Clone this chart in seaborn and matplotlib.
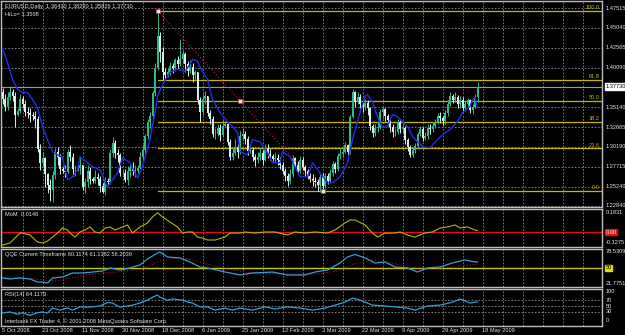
import numpy as np
import pandas as pd
import matplotlib
matplotlib.use("Agg")
import matplotlib.pyplot as plt
import matplotlib.transforms as mtrans
import seaborn as sns

sns.set_theme(style="dark")
plt.rcParams['font.family'] = ['Liberation Sans', 'DejaVu Sans']

# ---------------- data ----------------
first_open = 1.3700
close = [
1.3620,1.3520,1.3640,1.3700,1.3660,1.3420,
1.3470,1.3620,1.3560,1.3460,1.3440,1.3420,
1.3400,1.3370,1.3000,1.2820,1.2880,1.2680,
1.2550,1.2480,1.2670,1.2960,1.2900,1.2740,
1.2720,1.2710,1.2960,1.2900,1.2740,1.2740,
1.2760,1.2790,1.2520,1.2580,1.2720,1.2620,
1.2600,1.2640,1.2620,1.2530,1.2460,1.2600,
1.2580,1.2950,1.3070,1.2950,1.2920,1.2690,
1.2700,1.2610,1.2720,1.2760,1.2720,1.2720,
1.2760,1.2900,1.2980,1.3150,1.3330,1.3400,
1.3690,1.4000,1.4400,1.4200,1.3950,1.3920,
1.3950,1.4030,1.4000,1.4100,1.4050,1.4120,
1.4180,1.4050,1.3970,1.4020,1.3920,1.3950,
1.3600,1.3450,1.3620,1.3650,1.3440,1.3370,
1.3180,1.3180,1.3260,1.3170,1.3280,1.3300,
1.3080,1.2900,1.2950,1.3020,1.2960,1.3160,
1.3180,1.3120,1.2970,1.2980,1.2890,1.2860,
1.2900,1.2950,1.2860,1.3000,1.2930,1.2910,
1.2870,1.2880,1.2860,1.2800,1.2720,1.2660,
1.2590,1.2680,1.2880,1.2800,1.2720,1.2860,
1.2770,1.2720,1.2660,1.2620,1.2590,1.2580,
1.2540,1.2640,1.2530,1.2660,1.2600,1.2700,
1.2810,1.2750,1.2910,1.2930,1.2960,1.3040,
1.2960,1.3390,1.3700,1.3580,1.3640,1.3560,
1.3520,1.3570,1.3500,1.3280,1.3190,1.3250,
1.3270,1.3460,1.3490,1.3400,1.3350,1.3270,
1.3200,1.3200,1.3330,1.3240,1.3260,1.3100,
1.3020,1.2920,1.2980,1.3030,1.3180,1.3240,
1.3130,1.3150,1.3260,1.3240,1.3280,1.3330,
1.3400,1.3380,1.3340,1.3440,1.3560,1.3650,
1.3610,1.3640,1.3550,1.3610,1.3500,1.3560,
1.3600,1.3480,1.3520,1.3643,1.3773]
high = [
1.3760,1.3680,1.3700,1.3780,1.3740,1.3700,
1.3500,1.3680,1.3650,1.3600,1.3520,1.3500,
1.3450,1.3470,1.3400,1.3050,1.2960,1.2900,
1.2700,1.2620,1.2720,1.3010,1.3020,1.2930,
1.2770,1.2800,1.3000,1.3040,1.2940,1.2800,
1.2790,1.2890,1.2800,1.2630,1.2800,1.2770,
1.2650,1.2730,1.2700,1.2660,1.2570,1.2650,
1.2630,1.3000,1.3140,1.3100,1.2990,1.2940,
1.2730,1.2740,1.2780,1.2800,1.2830,1.2800,
1.2790,1.2960,1.3050,1.3180,1.3370,1.3460,
1.3720,1.4060,1.4719,1.4450,1.4260,1.4010,
1.4000,1.4080,1.4060,1.4130,1.4150,1.4360,
1.4220,1.4200,1.4090,1.4100,1.4060,1.3980,
1.3960,1.3640,1.3680,1.3720,1.3660,1.3480,
1.3400,1.3260,1.3310,1.3300,1.3350,1.3340,
1.3320,1.3120,1.3020,1.3120,1.3050,1.3220,
1.3260,1.3220,1.3150,1.3020,1.3020,1.2930,
1.2960,1.3010,1.2980,1.3060,1.3050,1.2990,
1.2930,1.2960,1.2930,1.2900,1.2830,1.2760,
1.2690,1.2740,1.2920,1.2900,1.2840,1.2910,
1.2890,1.2800,1.2750,1.2690,1.2680,1.2640,
1.2620,1.2680,1.2690,1.2700,1.2700,1.2740,
1.2840,1.2830,1.2950,1.2990,1.3010,1.3080,
1.3060,1.3420,1.3740,1.3720,1.3700,1.3680,
1.3600,1.3620,1.3600,1.3520,1.3300,1.3300,
1.3340,1.3490,1.3520,1.3500,1.3430,1.3380,
1.3300,1.3260,1.3370,1.3350,1.3310,1.3280,
1.3130,1.3040,1.3020,1.3070,1.3210,1.3280,
1.3270,1.3200,1.3300,1.3310,1.3330,1.3370,
1.3440,1.3450,1.3410,1.3480,1.3600,1.3700,
1.3680,1.3710,1.3670,1.3650,1.3640,1.3590,
1.3630,1.3620,1.3560,1.3680,1.3829]
low = [
1.3560,1.3470,1.3480,1.3600,1.3590,1.3270,
1.3400,1.3440,1.3510,1.3400,1.3380,1.3330,
1.3350,1.3250,1.2960,1.2730,1.2780,1.2520,
1.2450,1.2340,1.2330,1.2620,1.2800,1.2680,
1.2690,1.2650,1.2700,1.2840,1.2660,1.2660,
1.2720,1.2680,1.2480,1.2440,1.2520,1.2560,
1.2570,1.2570,1.2550,1.2460,1.2440,1.2420,
1.2540,1.2560,1.2890,1.2880,1.2830,1.2660,
1.2670,1.2580,1.2550,1.2640,1.2670,1.2650,
1.2700,1.2740,1.2860,1.2950,1.3120,1.3260,
1.3380,1.3660,1.3980,1.4080,1.3860,1.3880,
1.3890,1.3920,1.3940,1.3970,1.4000,1.4030,
1.4060,1.3950,1.3900,1.3940,1.3830,1.3850,
1.3560,1.3330,1.3420,1.3550,1.3400,1.3300,
1.3140,1.3120,1.3150,1.3090,1.3140,1.3250,
1.3040,1.2860,1.2860,1.2920,1.2880,1.2930,
1.3100,1.3050,1.2920,1.2940,1.2850,1.2780,
1.2820,1.2860,1.2800,1.2840,1.2880,1.2860,
1.2840,1.2820,1.2800,1.2740,1.2680,1.2600,
1.2530,1.2560,1.2650,1.2760,1.2680,1.2700,
1.2730,1.2660,1.2620,1.2580,1.2530,1.2520,
1.2470,1.2457,1.2490,1.2510,1.2560,1.2580,
1.2660,1.2700,1.2720,1.2870,1.2900,1.2940,
1.2920,1.2930,1.3380,1.3520,1.3550,1.3500,
1.3450,1.3480,1.3420,1.3230,1.3140,1.3150,
1.3210,1.3240,1.3380,1.3340,1.3290,1.3210,
1.3140,1.3160,1.3180,1.3190,1.3190,1.3060,
1.2970,1.2890,1.2890,1.2950,1.3000,1.3150,
1.3090,1.3100,1.3120,1.3180,1.3210,1.3250,
1.3300,1.3320,1.3290,1.3300,1.3400,1.3530,
1.3570,1.3580,1.3500,1.3510,1.3460,1.3470,
1.3520,1.3440,1.3430,1.3500,1.3583]

hilo_bar = [0,2,4,6,8,10,12,14,16,18,20,22,24,26,28,30,31,34,36,39,42,44,46,48,51,53,54,56,59,61,
            62,64,67,70,73,75,76,78,79,82,84,87,90,92,94,95,98,100,103,106,108,111,112,115,119,122,124,127,130,132,
            135,138,140,143,145,146,148,150,152,154,156,158,162,164,168,171,174,176,179,182,184,187,188,189,190]
hilo_val = [1.4247,1.4075,1.3862,1.3737,1.3699,1.3699,1.3611,1.3511,1.3273,1.3110,
            1.2960,1.2922,1.2885,1.2609,1.2647,1.2734,1.2897,1.2822,1.2772,1.2734,
            1.2521,1.2609,1.2697,1.2885,1.2822,1.2697,1.2634,1.2772,1.3110,1.3448,
            1.3649,1.3799,1.3950,1.3987,1.3962,1.4050,1.4112,1.4087,1.4012,1.3862,
            1.3611,1.3448,1.3336,1.3273,1.3198,1.2960,1.2922,1.3110,1.3085,1.2947,
            1.2822,1.2822,1.2960,1.2897,1.2647,1.2647,1.2822,1.2697,1.2572,1.2572,
            1.2647,1.2822,1.3110,1.3448,1.3649,1.3674,1.3574,1.3398,1.3260,1.3273,
            1.3423,1.3398,1.3273,1.3148,1.3022,1.3010,1.3110,1.3173,1.3235,1.3336,
            1.3448,1.3524,1.3611,1.3636,1.3508]

price_ticks = [1.47515, 1.45040, 1.42565, 1.40090, 1.35140, 1.32665, 1.30190, 1.27715, 1.25240, 1.22840]
current_price = 1.37730
fib_high = 1.4719
fib_low = 1.2470
fib_high_bar = 62
fib_low_bar = 128
fib_levels = [100.0, 61.8, 50.0, 38.2, 23.6, 0.0]

mom_bar = [0,3,5,7,8,11,14,16,18,20,22,24,26,27,29,31,33,35,37,39,41,43,45,47,50,52,55,58,60,62,
           64,67,70,72,74,76,78,80,82,85,89,91,95,97,101,105,109,114,117,121,125,130,133,137,139,141,145,148,150,153,
           157,159,162,165,169,172,175,178,181,183,186,189,190]
mom_val = [-0.124,-0.105,-0.057,-0.010,-0.010,-0.029,-0.095,-0.105,-0.086,-0.048,
           -0.010,0.038,0.019,-0.010,-0.048,0.0,0.019,0.048,0.0,-0.010,
           0.038,0.048,0.019,0.038,0.067,-0.010,0.048,0.086,0.143,0.1831,
           0.143,0.095,0.048,-0.010,0.0,0.0,-0.048,-0.057,-0.076,-0.076,
           -0.048,-0.010,-0.010,0.0,-0.010,0.0,0.0,-0.029,0.0,-0.010,
           0.0,-0.010,0.019,0.086,0.114,0.114,0.067,-0.010,-0.048,-0.010,
           -0.010,0.0,-0.029,-0.048,-0.010,0.0,0.038,0.048,0.067,0.038,
           0.048,0.019,0.0146]

qqe_bar = [0,3,7,11,14,16,18,20,24,28,32,36,40,43,47,51,55,58,62,63,66,71,75,79,82,89,95,100,108,114,
           121,125,130,135,138,141,145,149,153,157,162,166,170,175,180,185,189,190]
qqe_val = [31.0,29.1,31.0,29.1,23.6,23.6,21.8,31.0,32.8,40.1,40.1,41.9,43.8,49.3,45.6,49.3,54.8,65.7,76.7,78.5,
           69.4,67.6,60.3,51.1,49.3,41.9,36.5,40.1,41.9,36.5,
           36.5,41.9,45.6,58.4,69.4,74.0,67.6,58.4,60.3,51.1,49.3,41.9,49.3,51.1,58.4,63.9,60.3,60.1]
qqe_slow_bar = [0,8,14,18,22,26,32,40,48,56,62,70,76,82,90,98,108,118,126,134,140,148,156,164,172,182,190]
qqe_slow_val = [32.0,31.0,29.0,26.0,25.5,30.0,36.0,40.0,43.0,48.0,60.0,68.0,64.0,56.0,48.0,41.0,39.0,38.0,
                38.5,44.0,56.0,64.0,58.0,50.0,47.0,53.0,56.2]

rsi_bar = [0,3,6,8,11,14,16,18,20,23,26,28,31,34,36,39,42,44,47,50,52,55,58,60,62,63,66,68,72,74,
           76,79,82,85,89,92,95,100,105,109,114,119,124,129,133,137,140,143,148,153,157,162,165,170,175,180,183,187,189,190]
rsi_val = [26,30,22,27,18,27,30,26,43,36,43,36,47,46,47,50,62,60,46,50,53,60,70,80,87,80,70,74,70,64,
           60,47,47,36,43,36,43,36,47,40,47,43,36,43,53,63,77,70,53,50,47,43,36,50,53,63,74,60,63,64.1]
rsi_levels = [70, 50, 30]
rsi_ticks = [100, 70, 50, 30, 0]

date_labels = ["5 Oct 2008", "23 Oct 2008", "11 Nov 2008", "30 Nov 2008", "18 Dec 2008", "6 Jan 2009",
               "25 Jan 2009", "12 Feb 2009", "3 Mar 2009", "22 Mar 2009", "9 Apr 2009", "29 Apr 2009",
               "18 May 2009"]
date_bars = [0, 16, 32, 48, 64, 80, 96, 112, 128, 144, 160, 176, 192]

# ---------------- layout ----------------
W, H = 625, 335
L, R = 1, 602
BAR0, STEP = 2.5, 2.5
XMIN = (L - BAR0) / STEP
XMAX = (R - BAR0) / STEP

BG = 'black'
GRID = '#8c8c8c'
TXT = '#e6e6e6'
FS = 4.1
BULL = '#2fb98c'
BEAR = '#d6f2ec'
FIB = '#c4b800'

fig = plt.figure(figsize=(W / 100, H / 100), dpi=100, facecolor=BG)


def add_ax(top, bottom):
    a = fig.add_axes([L / W, 1 - bottom / H, (R - L) / W, (bottom - top) / H])
    a.set_facecolor(BG)
    a.set_xlim(XMIN, XMAX)
    a.set_xticks([])
    a.set_yticks([])
    a.grid(False)
    for s in a.spines.values():
        s.set_color('#bdbdbd')
        s.set_linewidth(1.0)
    for b in range(8, 240, 8):
        a.axvline(b, color=GRID, ls=(0, (2, 2)), lw=0.6, zorder=0)
    return a


ax = add_ax(1, 207)
ax_m = add_ax(209, 247)
ax_q = add_ax(249, 287)
ax_r = add_ax(289, 326)

# ---------------- main price panel ----------------
ax.set_ylim(1.22706, 1.48392)
for p in price_ticks:
    ax.axhline(p, color=GRID, ls=(0, (2, 2)), lw=0.6, zorder=0)

n = min(len(close), len(high), len(low))
idx = np.arange(n)
c = np.array(close[:n])
o = np.array([first_open] + close[:n - 1])
hi = np.array(high[:n])
lo = np.array(low[:n])
cols = [BULL if cc >= oo else BEAR for oo, cc in zip(o, c)]
ax.vlines(idx, lo, hi, colors=cols, lw=0.7, zorder=3)
body_lo = np.minimum(o, c)
body_h = np.maximum(np.abs(c - o), 0.0006)
ax.bar(idx, body_h, bottom=body_lo, width=0.7, color=cols, linewidth=0, zorder=3)

# fibonacci levels
fib_rng = fib_high - fib_low
for lev in fib_levels:
    val = fib_low + fib_rng * lev / 100.0
    ax.plot([fib_high_bar, XMAX], [val, val], color=FIB, lw=0.9, zorder=2)
    ax.text(XMAX - 1, val + 0.0008, f"{lev:.1f}", color=FIB, fontsize=FS, ha='right', va='bottom', zorder=5)

# fib trend line
ax.plot([fib_high_bar, fib_low_bar], [fib_high, fib_low], color='#d02020', ls=(0, (1, 2)), lw=0.8, zorder=4)
mid_bar = (fib_high_bar + fib_low_bar) / 2
ax.plot([fib_high_bar, mid_bar, fib_low_bar], [fib_high, (fib_high + fib_low) / 2, fib_low], ls='none',
        marker='s', ms=2.2, mfc='#ffd8d8', mec='#e03030', mew=0.5, zorder=6)

# current price line
ax.axhline(current_price, color='#9a9a9a', lw=0.8, zorder=1)

# HiLo line
sns.lineplot(x=hilo_bar, y=hilo_val, ax=ax, color='#1f2ee8', lw=1.0, legend=False, estimator=None, sort=False, zorder=4)
ax.set_xlabel('')
ax.set_ylabel('')

# price labels
trans_main = mtrans.blended_transform_factory(ax.transAxes, ax.transData)
for p in price_ticks:
    ax.text(1.006, p, f"{p:.5f}", color=TXT, fontsize=FS, ha='left', va='center', transform=trans_main, clip_on=False)
ax.text(1.006, current_price, f"{current_price:.5f}", color='black', fontsize=FS, ha='left', va='center',
        transform=trans_main, clip_on=False,
        bbox=dict(boxstyle='square,pad=0.12', fc='white', ec='white'))

ax.text(0.006, 0.985, "EURUSD,Daily  1.36430 1.38290 1.35826 1.37730", color=TXT, fontsize=FS,
        ha='left', va='top', transform=ax.transAxes)
ax.text(0.006, 0.948, "HiLo= 1.3508", color=TXT, fontsize=FS, ha='left', va='top', transform=ax.transAxes)

# ---------------- MoM panel ----------------
ax_m.set_ylim(-0.1425, 0.2185)
ax_m.axhline(0.0, color='#e01010', lw=1.0, zorder=1)
sns.lineplot(x=mom_bar, y=mom_val, ax=ax_m, color='#b8b400', lw=0.8, legend=False, estimator=None, sort=False, zorder=3)
ax_m.set_xlabel(''); ax_m.set_ylabel('')
tm = mtrans.blended_transform_factory(ax_m.transAxes, ax_m.transData)
ax_m.text(1.006, 0.1831, "0.1831", color=TXT, fontsize=FS, ha='left', va='center', transform=tm, clip_on=False)
ax_m.text(1.006, 0.0, "0.00", color='white', fontsize=FS, ha='left', va='center', transform=tm, clip_on=False,
          bbox=dict(boxstyle='square,pad=0.1', fc='#e01010', ec='#e01010'))
ax_m.text(1.006, -0.1275, "-0.1275", color=TXT, fontsize=FS, ha='left', va='bottom', transform=tm, clip_on=False)
ax_m.text(0.006, 0.93, "MoM  0.0146", color=TXT, fontsize=FS, ha='left', va='top', transform=ax_m.transAxes)

# ---------------- QQE panel ----------------
ax_q.set_ylim(14.5, 84.0)
ax_q.axhline(50, color='#c8c400', lw=1.0, zorder=1)
sns.lineplot(x=qqe_slow_bar, y=qqe_slow_val, ax=ax_q, color='#d02020', lw=0.7, ls=(0, (1, 2)), legend=False,
             estimator=None, sort=False, zorder=2)
sns.lineplot(x=qqe_bar, y=qqe_val, ax=ax_q, color='#3a9bd6', lw=0.9, legend=False, estimator=None, sort=False, zorder=3)
ax_q.set_xlabel(''); ax_q.set_ylabel('')
tq = mtrans.blended_transform_factory(ax_q.transAxes, ax_q.transData)
ax_q.text(1.006, 78.5309, "78.5309", color=TXT, fontsize=FS, ha='left', va='center', transform=tq, clip_on=False)
ax_q.text(1.006, 50, "50", color='black', fontsize=FS, ha='left', va='center', transform=tq, clip_on=False,
          bbox=dict(boxstyle='square,pad=0.1', fc='#e0dc00', ec='#e0dc00'))
ax_q.text(1.006, 21.7751, "21.7751", color=TXT, fontsize=FS, ha='left', va='center', transform=tq, clip_on=False)
ax_q.text(0.006, 0.93, "QQE Current Timeframe 60.1174 61.1382 56.2039", color=TXT, fontsize=FS,
          ha='left', va='top', transform=ax_q.transAxes)

# ---------------- RSI panel ----------------
ax_r.set_ylim(-18.0, 107.8)
for lv in rsi_levels:
    ax_r.axhline(lv, color=GRID, ls=(0, (2, 2)), lw=0.6, zorder=1)
sns.lineplot(x=rsi_bar, y=rsi_val, ax=ax_r, color='#3a9bd6', lw=0.9, legend=False, estimator=None, sort=False, zorder=3)
ax_r.set_xlabel(''); ax_r.set_ylabel('')
tr = mtrans.blended_transform_factory(ax_r.transAxes, ax_r.transData)
for t in rsi_ticks:
    ax_r.text(1.006, t, f"{t}", color=TXT, fontsize=FS, ha='left', va='center', transform=tr, clip_on=False)
ax_r.text(0.006, 0.93, "RSI(14) 64.1179", color=TXT, fontsize=FS, ha='left', va='top', transform=ax_r.transAxes)
ax_r.text(0.006, 0.06, "Interbank FX Trader 4, \u00a9 2001-2008 MetaQuotes Software Corp.", color=TXT,
          fontsize=FS, ha='left', va='bottom', transform=ax_r.transAxes)

# ---------------- date labels ----------------
tdate = mtrans.blended_transform_factory(ax_r.transData, fig.transFigure)
for b, lab in zip(date_bars, date_labels):
    ax_r.text(b - 0.2, 1 - 330.5 / H, lab, color=TXT, fontsize=FS, ha='left', va='center',
              transform=tdate, clip_on=False)

fig.savefig('out.png', dpi=100, facecolor=BG)
